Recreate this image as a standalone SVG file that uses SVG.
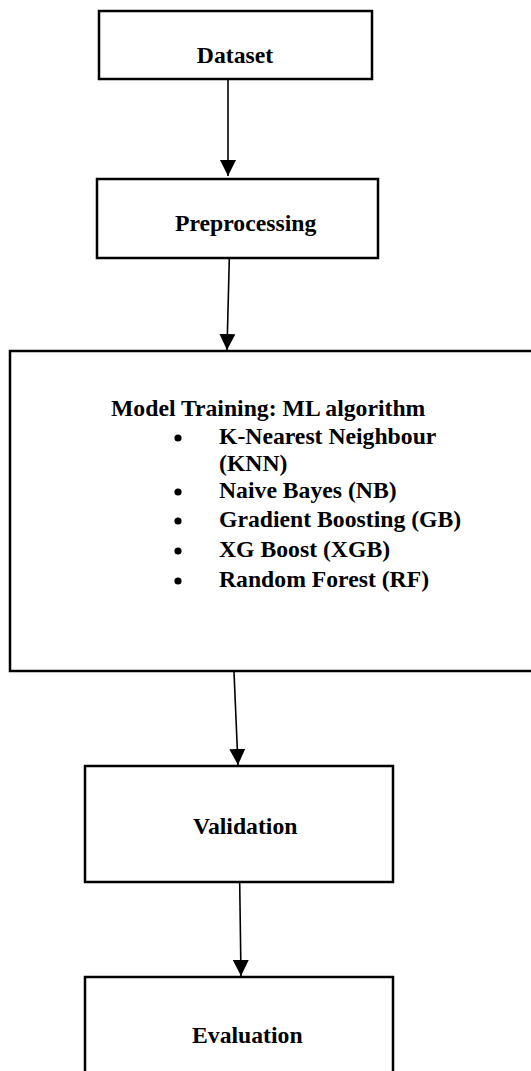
<svg xmlns="http://www.w3.org/2000/svg" width="531" height="1071" viewBox="0 0 531 1071">
<style>
.box{fill:#fff;stroke:#000;stroke-width:2.5}
.t{font-family:"Liberation Serif","Times New Roman",serif;font-weight:bold;font-size:23.7px;fill:#000}
.c{stroke:#000;stroke-width:1.6;fill:none}
</style>
<defs>
<marker id="ah" markerUnits="userSpaceOnUse" markerWidth="16" markerHeight="16" viewBox="0 0 16 16" refX="16" refY="8" orient="auto">
<path d="M0,0 L16,8 L0,16 Z" fill="#000"/>
</marker>
</defs>
<g id="dataset">
<rect class="box" x="99" y="11" width="273" height="68"/>
<text class="t" x="235" y="63" text-anchor="middle">Dataset</text>
</g>
<g id="preprocessing">
<rect class="box" x="97" y="179" width="281" height="79"/>
<text class="t" x="175" y="231">Preprocessing</text>
</g>
<g id="training">
<rect class="box" x="10" y="351" width="535" height="320"/>
<text class="t" x="111" y="416">Model Training: ML algorithm</text>
<g class="t">
<circle cx="178" cy="438" r="3.6"/>
<text x="219" y="444">K-Nearest Neighbour</text>
<text x="219" y="471">(KNN)</text>
<circle cx="178" cy="492" r="3.6"/>
<text x="219" y="498">Naive Bayes (NB)</text>
<circle cx="178" cy="521" r="3.6"/>
<text x="219" y="527">Gradient Boosting (GB)</text>
<circle cx="178" cy="551" r="3.6"/>
<text x="219" y="557">XG Boost (XGB)</text>
<circle cx="178" cy="581" r="3.6"/>
<text x="219" y="587">Random Forest (RF)</text>
</g>
</g>
<g id="validation">
<rect class="box" x="85" y="766" width="308" height="116"/>
<text class="t" x="193" y="834">Validation</text>
</g>
<g id="evaluation">
<rect class="box" x="85" y="977" width="308" height="110"/>
<text class="t" x="192" y="1043">Evaluation</text>
</g>
<g id="connectors">
<line class="c" x1="228" y1="80" x2="228" y2="176" marker-end="url(#ah)"/>
<line class="c" x1="229.3" y1="259" x2="227" y2="350" marker-end="url(#ah)"/>
<line class="c" x1="234" y1="672" x2="238" y2="765" marker-end="url(#ah)"/>
<line class="c" x1="239.7" y1="883" x2="241" y2="976" marker-end="url(#ah)"/>
</g>
</svg>
